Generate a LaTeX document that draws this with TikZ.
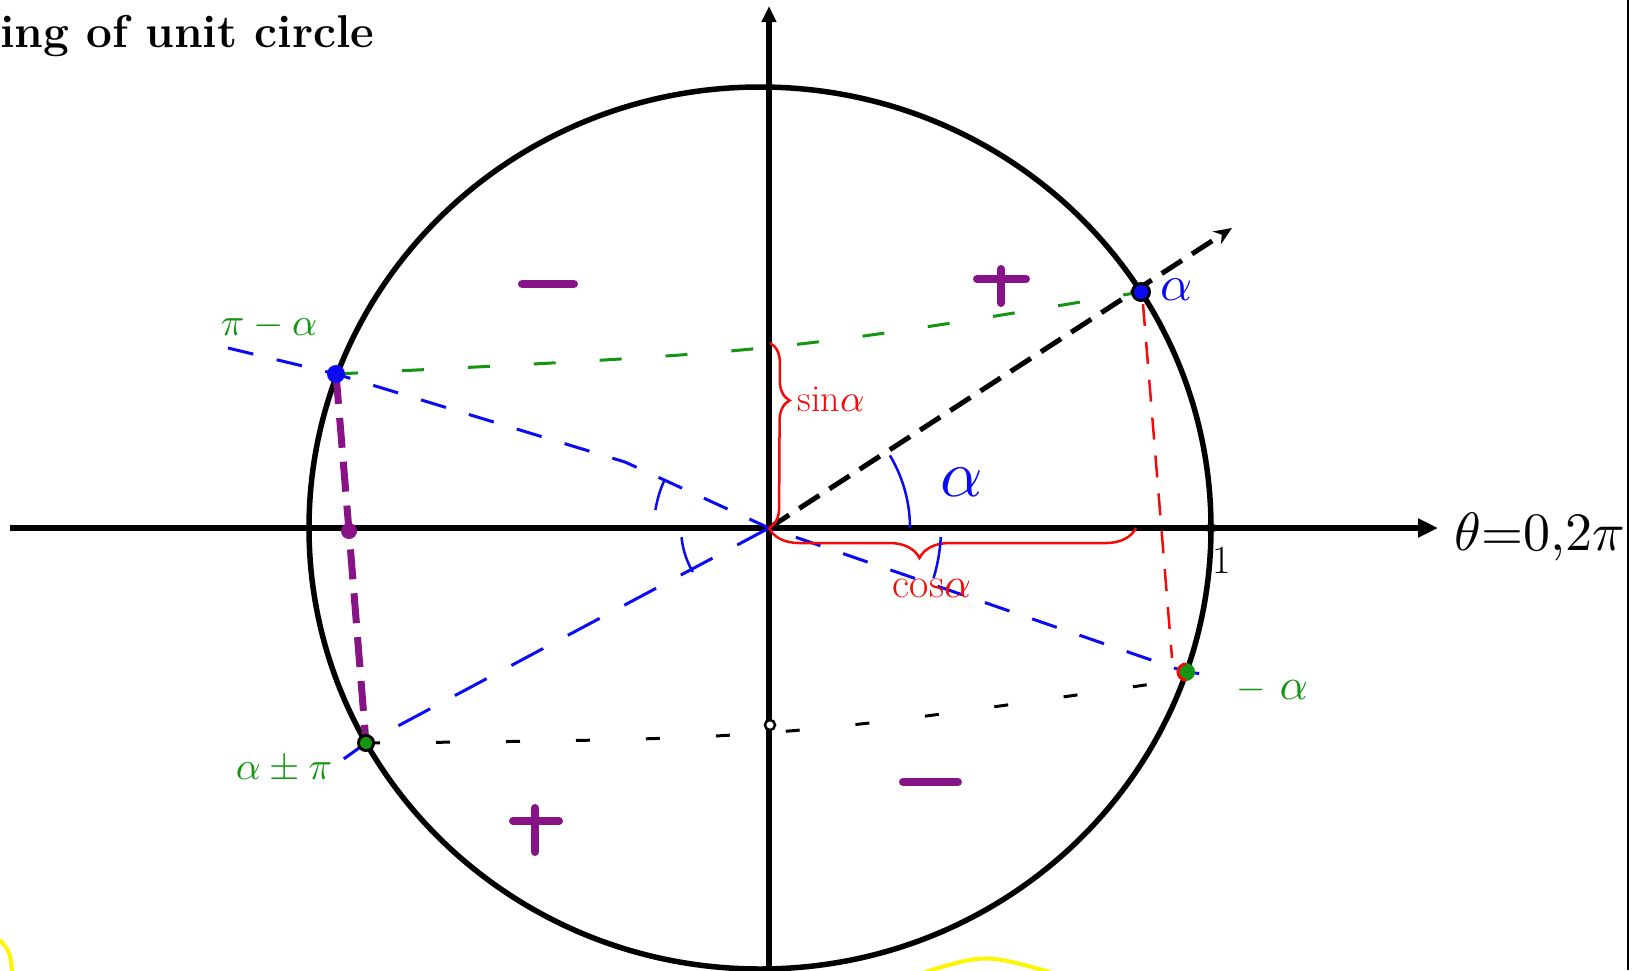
\documentclass[tikz,border=0pt]{standalone}
\usepackage{graphicx}
\usetikzlibrary{arrows.meta,decorations.pathreplacing}
\definecolor{hgreen}{RGB}{20,150,20}
\definecolor{hblue}{RGB}{10,10,245}
\definecolor{hred}{RGB}{245,10,10}
\definecolor{hpurple}{RGB}{135,20,135}
\definecolor{hyellow}{RGB}{255,245,0}
\newcommand{\sclm}[2]{{\fontsize{10}{12}\selectfont\scalebox{#1}{$#2$}}}
\begin{document}
\begin{tikzpicture}[x=1pt,y=-1pt,
  axis/.style={line width=5.5pt},
  bl/.style={hblue,line width=3pt,dash pattern=on 26pt off 24pt},
  bltwo/.style={hblue,line width=3pt,dash pattern=on 36pt off 28pt},
  gr/.style={hgreen,line width=3pt,dash pattern=on 22pt off 44pt},
  rd/.style={hred,line width=2.5pt,dash pattern=on 22pt off 16pt},
  bk/.style={black,line width=3pt,dash pattern=on 14pt off 56pt},
  pu/.style={hpurple,line width=7pt,dash pattern=on 30pt off 14pt},
  sign/.style={hpurple,line width=8pt,line cap=round},
  arcb/.style={hblue,line width=2.5pt},
  brc/.style={hred,line width=2.5pt,decorate},
  lab/.style={inner sep=0pt}]
\useasboundingbox (0,0) rectangle (1640,970);
\fill[white] (0,0) rectangle (1640,970);

% title
\node[lab,anchor=base west,font=\bfseries\fontsize{46}{50}\selectfont] (title) at (0,47) {ing of unit circle};

% coordinates
\coordinate (C) at (760,528);
\coordinate (O) at (769,528);
\coordinate (A) at (1141,292);
\coordinate (PA) at (336,374);
\coordinate (AP) at (366,743);
\coordinate (MA) at (1186,672);
\coordinate (X1) at (1211,528);
\coordinate (Y0) at (770,725);
\coordinate (PX) at (349,531);
\coordinate (rayend) at (1232,228);
\coordinate (xl) at (10,528);
\coordinate (xr) at (1438,528);
\coordinate (yb) at (769,975);
\coordinate (yt) at (769,6);

% circle
\draw[axis] (C) ellipse [x radius=451pt, y radius=441pt];

% axes
\draw[axis,-{Triangle[length=20pt,width=18pt]}] (xl) -- (xr);
\draw[axis,-{Triangle[length=16pt,width=14pt]}] (yb) -- (yt);

% right border
\draw[line width=2.5pt] (1628,0) -- (1628,970);

% dashed lines
\draw[gr] (PA) .. controls (780,352) .. (A);
\draw[bl] (228,348) -- (PA) -- (625,462) -- (O) -- (MA) -- (1222,676);
\draw[bltwo] (O) -- (AP) -- (338,763);
\draw[bk] (AP) .. controls (777,739) .. (1186,679);
\draw[rd] (1143,304) -- (1172,658);
\draw[pu] (PA) -- (PX) -- (AP);

% ray
\draw[line width=5pt,dash pattern=on 24pt off 12pt,-{Stealth[length=18pt,width=15pt]}] (O) -- (rayend);

% braces
\draw[brc,decoration={brace,amplitude=20pt,aspect=0.31}] (770,343) -- (O);
\draw[brc,decoration={brace,amplitude=30pt,aspect=0.59}] (1136,528) -- (O);

% angle arcs
\draw[arcb] plot[domain=0:31,samples=25] ({769+141*cos(\x)},{528-141*sin(\x)});
\draw[arcb] plot[domain=155:171,samples=15] ({769+115*cos(\x)},{528-115*sin(\x)});
\draw[arcb] plot[domain=186:210,samples=15] ({769+88*cos(\x)},{528-88*sin(\x)});
\draw[arcb] plot[domain=-3:-17,samples=15] ({769+172*cos(\x)},{528-172*sin(\x)});

% points
\fill[black] (A) circle (10pt);
\fill[hblue] (A) circle (7pt);
\fill[hblue] (PA) circle (9pt);
\fill[black] (AP) circle (9pt);
\fill[hgreen] (AP) circle (6pt);
\fill[hgreen] (MA) circle (9pt);
\draw[hred,line width=3pt] ([shift={(0,-8)}]MA) arc[start angle=90,end angle=270,radius=8pt];
\fill[hpurple] (PX) circle (8pt);
\fill[black] (X1) circle (5pt);
\draw[line width=2.5pt,fill=white] (Y0) circle (5pt);

% signs
\draw[sign] (522,284) -- (574,284);
\draw[sign] (977,279) -- (1026,279);
\draw[sign] (1001,269) -- (1001,303);
\draw[sign] (513,821) -- (559,821);
\draw[sign] (535,808) -- (535,852);
\draw[sign] (903,782) -- (958,782);

% labels
\node[lab,text=hblue] (alab) at (962,482) {\sclm{6.6}{\alpha}};
\node[lab,text=hblue] (alabtwo) at (1177,290) {\sclm{5}{\alpha}};
\node[lab,text=hgreen] (palab) at (269,326) {\sclm{3.9}{\pi-\alpha}};
\node[lab,text=hgreen] (aplab) at (284,770) {\sclm{3.9}{\alpha\pm\pi}};
\node[lab,text=hgreen] (malab) at (1272,690) {\sclm{3.8}{-}\hspace{14pt}\sclm{4.4}{\alpha}};
\node[lab,text=hred,font=\fontsize{38}{42}\selectfont] (sinlab) at (831,399) {sin\sclm{3.8}{\alpha}};
\node[lab,text=hred,font=\fontsize{42}{46}\selectfont] (coslab) at (932,588) {cos\sclm{4.2}{\alpha}};
\node[lab,font=\fontsize{40}{44}\selectfont] (onelab) at (1222,560) {1};
\node[lab,anchor=base west] (thlab) at (1454,550) {\sclm{5.4}{\theta{=}0{,}2\pi}};

% yellow marks
\draw[hyellow,line width=4pt] (0,940) .. controls (10,952) .. (12,971);
\draw[hyellow,line width=4pt] (925,972) .. controls (985,954) .. (1050,972);
\end{tikzpicture}
\end{document}
